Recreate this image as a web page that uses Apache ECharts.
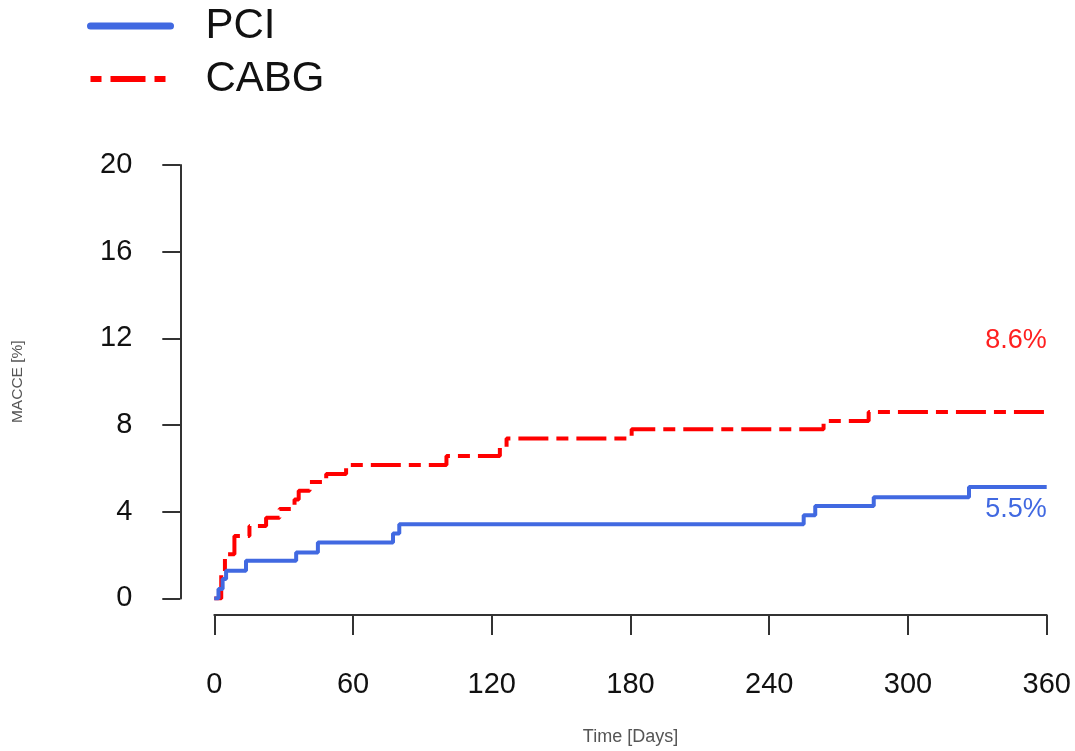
<!DOCTYPE html>
<html>
<head>
<meta charset="utf-8">
<script src="https://cdn.jsdelivr.net/npm/echarts@6/dist/echarts.min.js"></script>
<style>
html,body{margin:0;padding:0;background:#fff;}
#chart{width:1075px;height:751px;}
</style>
</head>
<body>
<div id="chart"></div>
<script>
// ---- data ----
const seriesNames = ['PCI', 'CABG'];
const pciData = [
  [0, 0], [1.8, 0.43], [3.6, 0.9], [5.1, 1.28], [13.7, 1.74], [35.4, 2.12],
  [44.8, 2.58], [77.3, 3.0], [80, 3.42], [254.9, 3.84], [259.9, 4.26],
  [285.2, 4.67], [326.4, 5.14], [360, 5.14]
];
const cabgData = [
  [0, 0], [3, 1.13], [4.6, 2.04], [8.7, 2.88], [15.2, 3.34], [22.4, 3.72],
  [28.2, 4.13], [34.7, 4.56], [36.5, 4.97], [41.2, 5.37], [48.4, 5.74],
  [57, 6.16], [100.4, 6.57], [123.5, 7.0], [126.4, 7.38], [180.5, 7.8],
  [263.5, 8.19], [283, 8.6], [360, 8.6]
];
const endLabelText = ['5.5%', '8.6%'];
const endLabelAt = [[360, 4.1], [360, 11.88]];
const xTicks = [0, 60, 120, 180, 240, 300, 360];
const yTicks = [0, 4, 8, 12, 16, 20];

const FONT = 'Liberation Sans, Arial, sans-serif';
const chart = echarts.init(document.getElementById('chart'));

function endMark(i, color) {
  return {
    symbol: 'rect', symbolSize: 0, silent: true,
    label: {
      show: true, position: 'left', distance: 0,
      color: color, fontSize: 27, fontFamily: FONT,
      formatter: endLabelText[i]
    },
    data: [{ coord: endLabelAt[i] }]
  };
}

chart.setOption({
  animation: false,
  backgroundColor: '#fff',
  legend: {
    orient: 'vertical', left: 87, top: 5, padding: 0,
    itemWidth: 80, itemHeight: 14, itemGap: 11,
    itemStyle: { opacity: 0 },
    textStyle: { fontSize: 42, fontFamily: FONT, color: '#111', lineHeight: 40, padding: [0, 0, 0, 30] },
    data: [
      { name: seriesNames[0], lineStyle: { width: 7, cap: 'round' } },
      { name: seriesNames[1], lineStyle: { width: 6, type: [11, 9, 35, 9], dashOffset: 0 } }
    ]
  },
  grid: { left: 214.3, top: 165, width: 832.4, height: 437.7 },
  xAxis: {
    type: 'value', min: xTicks[0], max: xTicks[xTicks.length - 1], interval: 60,
    offset: 16.6,
    name: 'Time [Days]', nameLocation: 'middle', nameGap: 113,
    nameTextStyle: { fontSize: 18, fontFamily: FONT, color: '#555' },
    axisLine: { show: true, onZero: false, lineStyle: { color: '#333', width: 2 } },
    axisTick: { show: true, length: 20, lineStyle: { color: '#333', width: 2 } },
    axisLabel: { fontSize: 29, fontFamily: FONT, color: '#111', margin: 55 },
    splitLine: { show: false }
  },
  yAxis: {
    type: 'value', min: yTicks[0], max: yTicks[yTicks.length - 1], interval: 4,
    offset: 34,
    name: 'MACCE [%]', nameLocation: 'middle', nameGap: 155,
    nameTextStyle: { fontSize: 15.5, fontFamily: FONT, color: '#555' },
    axisLine: { show: true, onZero: false, lineStyle: { color: '#333', width: 2 } },
    axisTick: { show: true, length: 18, lineStyle: { color: '#333', width: 2 } },
    axisLabel: { fontSize: 29, fontFamily: FONT, color: '#111', margin: 48 },
    splitLine: { show: false }
  },
  series: [
    {
      name: seriesNames[1], type: 'line', step: 'end', data: cabgData,
      symbol: 'none', z: 2,
      lineStyle: { color: '#ff0000', width: 4, type: [30, 8, 12, 8] },
      itemStyle: { color: '#ff0000' },
      markPoint: endMark(1, '#ff2020')
    },
    {
      name: seriesNames[0], type: 'line', step: 'end', data: pciData,
      symbol: 'none', z: 3,
      lineStyle: { color: '#4169e1', width: 4 },
      itemStyle: { color: '#4169e1' },
      markPoint: endMark(0, '#4169e1')
    }
  ]
});
</script>
</body>
</html>
